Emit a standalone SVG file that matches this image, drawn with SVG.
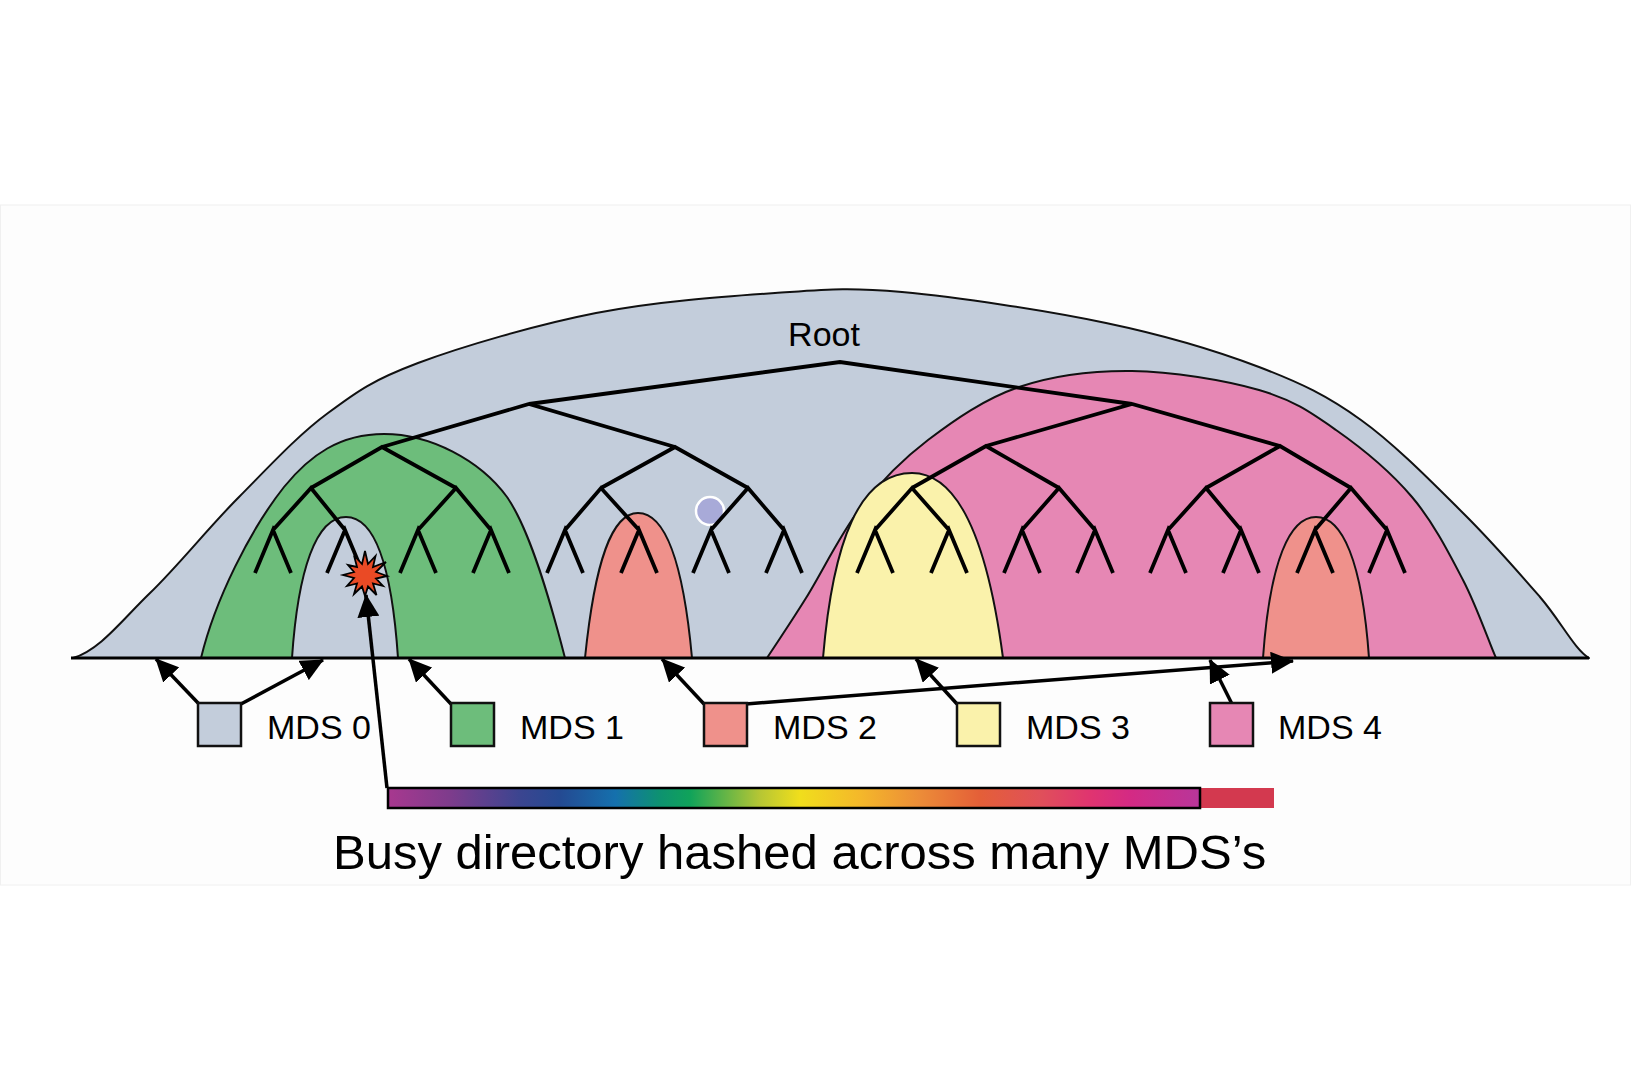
<svg xmlns="http://www.w3.org/2000/svg" width="1631" height="1091" viewBox="0 0 1631 1091">
<style>
.region{stroke:#111;stroke-width:2;stroke-linejoin:round}
.tree{fill:none;stroke:#000;stroke-width:3.8;stroke-linejoin:miter;stroke-miterlimit:6}
.conn{fill:none;stroke:#000;stroke-width:3.5}
.box{stroke:#111;stroke-width:2.5}
.lbl{font-family:"Liberation Sans",Arial,sans-serif;fill:#000}
</style>
<defs>
<marker id="ah" markerUnits="userSpaceOnUse" markerWidth="24" markerHeight="22" refX="22" refY="11" orient="auto">
<path d="M0,0 L23,11 L0,22 z" fill="#000"/>
</marker>
<linearGradient id="spec" x1="388" y1="0" x2="1200" y2="0" gradientUnits="userSpaceOnUse">
<stop offset="0" stop-color="#a8388f"/>
<stop offset="0.076" stop-color="#7e3c8c"/>
<stop offset="0.163" stop-color="#3b4590"/>
<stop offset="0.212" stop-color="#244a92"/>
<stop offset="0.28" stop-color="#1570ad"/>
<stop offset="0.335" stop-color="#0d9270"/>
<stop offset="0.372" stop-color="#10a35a"/>
<stop offset="0.458" stop-color="#b6c634"/>
<stop offset="0.507" stop-color="#f0de1c"/>
<stop offset="0.581" stop-color="#f4b82a"/>
<stop offset="0.655" stop-color="#ec8c38"/>
<stop offset="0.729" stop-color="#e45f38"/>
<stop offset="0.803" stop-color="#e0505a"/>
<stop offset="0.865" stop-color="#e03470"/>
<stop offset="0.914" stop-color="#d42a84"/>
<stop offset="1" stop-color="#b8369a"/>
</linearGradient>
</defs>
<rect x="0" y="0" width="1631" height="1091" fill="#ffffff"/>
<rect x="0.5" y="205" width="1630" height="680" fill="#fdfdfd" stroke="#f0f0f0" stroke-width="1"/>

<g id="root-region">
<path class="region" fill="#c3cddb" d="M73,658 C100,650 122,620 150,593 C178,566 209,527 239,497 C268.7,467 298,435 328,413 C357.8,390.7 373,380 418,363 C462.7,346.3 536.5,324.7 596,313 C655.5,301.3 724,296.5 775,293 C826,289.5 846.8,287 902,292 C957.2,297 1046.5,310.5 1106,323 C1165.5,335.5 1216.5,350.8 1259,367 C1301.5,383.2 1327,395.7 1361,420 C1395,444.3 1433.2,483.5 1463,513 C1492.8,542.5 1519,572.8 1540,597 C1561,621.5 1575,650 1589,658 Z"/>
<text class="lbl" x="824" y="346" font-size="34" text-anchor="middle">Root</text>
</g>
<g id="mds1-region">
<path class="region" fill="#6dbd7b" d="M201,658 C215,600 250,530 284,487 C310,455 340,434 384,434 C430,434 480,460 507,497 C530,530 550,600 565,658 Z"/>
</g>
<g id="mds0-hole">
<path class="region" fill="#c3cddb" d="M292,658 C298,570 316,517 346,517 C376,517 392,570 398,658 Z"/>
</g>
<g id="mds2-region-a">
<path class="region" fill="#ef918b" d="M585,658 C595,560 612,513 638,513 C665,513 683,560 692,658 Z"/>
</g>
<g id="mds4-region">
<path class="region" fill="#e687b4" d="M767,658 C773.5,648 790.3,623.2 806,598 C821.7,572.8 840.7,533.3 861,507 C881.3,480.7 901.7,460 928,440 C954.3,420 985,398.5 1019,387 C1053,375.5 1092,370.5 1132,371 C1172,371.5 1225,380.2 1259,390 C1293,399.8 1310.5,412.2 1336,430 C1361.5,447.8 1390.8,472 1412,497 C1433.2,522 1449,553.2 1463,580 C1477,606.8 1490,645 1496,658 Z"/>
</g>
<g id="mds3-region">
<path class="region" fill="#faf2ab" d="M823,658 C833,540 860,473 912,473 C965,473 990,560 1003,658 Z"/>
</g>
<g id="mds2-region-b">
<path class="region" fill="#ef918b" d="M1263,658 C1270,560 1290,517 1316,517 C1342,517 1362,560 1369,658 Z"/>
</g>
<g id="busy-dir">
<circle cx="710" cy="511" r="14" fill="#a8aad8" stroke="#ffffff" stroke-width="2.5"/>
</g>

<g id="tree">
<path class="tree" d="M529,404 L840,362 L1132,404
M382,447 L529,404 L675,447 M986,446 L1132,404 L1280,446
M311,488 L382,447 L456,488 M601,488 L675,447 L748,488 M912,488 L986,446 L1059,488 M1206,488 L1280,446 L1351,488
M273,530 L311,488 L345,530 M418,530 L456,488 L491,530 M565,530 L601,488 L639,530 M711,530 L748,488 L784,530
M875,530 L912,488 L949,530 M1022,530 L1059,488 L1095,530 M1168,530 L1206,488 L1241,530 M1315,530 L1351,488 L1387,530
M255,573 L273,530 L291,573 M327,573 L345,530 L363,573 M400,573 L418,530 L436,573 M473,573 L491,530 L509,573
M547,573 L565,530 L583,573 M621,573 L639,530 L657,573 M693,573 L711,530 L729,573 M766,573 L784,530 L802,573
M857,573 L875,530 L893,573 M931,573 L949,530 L967,573 M1004,573 L1022,530 L1040,573 M1077,573 L1095,530 L1113,573
M1150,573 L1168,530 L1186,573 M1223,573 L1241,530 L1259,573 M1297,573 L1315,530 L1333,573 M1369,573 L1387,530 L1405,573"/>
</g>

<g id="hotspot">
<polygon points="387,576 376,578.5 383,586 373,583.5 376.5,595 368,586.5 365,596 362,586.5 354,594 357,583.5 347,586 354,578 343,575 354,572 348,565 357,567 354,555.5 362,564 365,551 368,564 375.5,556 373,567 386,562 376,572" fill="#ea4a25" stroke="#000" stroke-width="1.8" stroke-linejoin="miter"/>
</g>

<g id="baseline">
<line x1="71" y1="658" x2="1589" y2="658" stroke="#000" stroke-width="3"/>
</g>

<g id="connectors">
<line class="conn" x1="199" y1="704" x2="156" y2="659" marker-end="url(#ah)"/>
<line class="conn" x1="241" y1="704" x2="323" y2="660" marker-end="url(#ah)"/>
<line class="conn" x1="451" y1="704" x2="409" y2="659" marker-end="url(#ah)"/>
<line class="conn" x1="704" y1="704" x2="662" y2="659" marker-end="url(#ah)"/>
<line class="conn" x1="746" y1="704" x2="1293" y2="661" marker-end="url(#ah)"/>
<line class="conn" x1="957" y1="704" x2="916" y2="659" marker-end="url(#ah)"/>
<line class="conn" x1="1232" y1="704" x2="1210" y2="660" marker-end="url(#ah)"/>
<line class="conn" x1="387" y1="788" x2="366" y2="595" marker-end="url(#ah)"/>
</g>

<g id="legend-mds0">
<rect class="box" x="198" y="703" width="43" height="43" fill="#c3cddb"/>
<text class="lbl" x="267" y="739" font-size="34">MDS 0</text>
</g>
<g id="legend-mds1">
<rect class="box" x="451" y="703" width="43" height="43" fill="#6dbd7b"/>
<text class="lbl" x="520" y="739" font-size="34">MDS 1</text>
</g>
<g id="legend-mds2">
<rect class="box" x="704" y="703" width="43" height="43" fill="#ef918b"/>
<text class="lbl" x="773" y="739" font-size="34">MDS 2</text>
</g>
<g id="legend-mds3">
<rect class="box" x="957" y="703" width="43" height="43" fill="#faf2ab"/>
<text class="lbl" x="1026" y="739" font-size="34">MDS 3</text>
</g>
<g id="legend-mds4">
<rect class="box" x="1210" y="703" width="43" height="43" fill="#e687b4"/>
<text class="lbl" x="1278" y="739" font-size="34">MDS 4</text>
</g>

<g id="hash-bar">
<rect x="1199" y="788" width="75" height="20" fill="#d3394f"/>
<rect x="388" y="788" width="812" height="20" fill="url(#spec)" stroke="#000" stroke-width="2.5"/>
</g>

<g id="caption">
<text class="lbl" x="333" y="869" font-size="49">Busy directory hashed across many MDS’s</text>
</g>
</svg>
